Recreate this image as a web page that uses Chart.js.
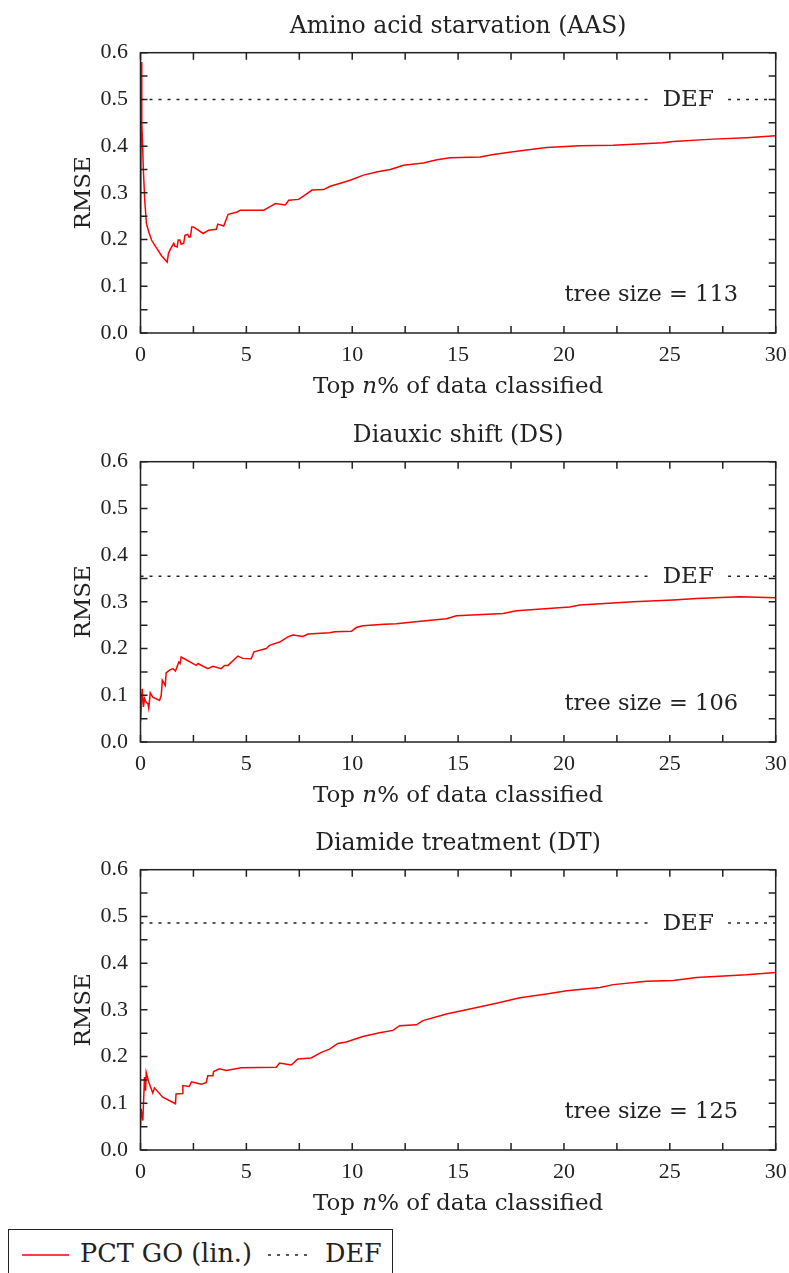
<!DOCTYPE html>
<html>
<head>
<meta charset="utf-8">
<script src="https://cdn.jsdelivr.net/npm/chart.js@4/dist/chart.umd.min.js"></script>
<style>
  body { margin: 0; background: #fff; }
  .wrap { position: relative; width: 789px; height: 1273px; overflow: hidden; }
  .wrap canvas { position: absolute; left: 0; }
  #legend {
    position: absolute; left: 8px; top: 1229px; width: 385px; height: 60px;
    border: 1.5px solid #222; box-sizing: border-box;
    font-family: "DejaVu Serif", serif; font-size: 25.5px; color: #222;
  }
  #legend svg { position: absolute; top: 0; left: 0; }
  #legend span { position: absolute; top: 8px; white-space: nowrap; }
</style>
</head>
<body>
<div class="wrap">
  <canvas id="c1" width="789" height="408" style="top:0px"></canvas>
  <canvas id="c2" width="789" height="408" style="top:409px"></canvas>
  <canvas id="c3" width="789" height="408" style="top:817px"></canvas>
  <div id="legend">
    <svg width="385" height="60">
      <line x1="13" y1="25" x2="60" y2="25" stroke="#ff0000" stroke-width="1.5"/>
      <line x1="259" y1="25" x2="299" y2="25" stroke="#222" stroke-width="1.5" stroke-dasharray="3 6"/>
    </svg>
    <span style="left:71px">PCT GO (lin.)</span>
    <span style="left:316px">DEF</span>
  </div>
</div>
<script>
(function() {
  'use strict';

  // chart titles, DEF baselines and tree sizes
  const titles = ["Amino acid starvation (AAS)", "Diauxic shift (DS)", "Diamide treatment (DT)"];
  const defValues = [0.5, 0.355, 0.486];
  const treeSizes = [113, 106, 125];

  // PCT GO (lin.) curves, [top n%, RMSE]
  const pctAAS = [
    [0,0.07],[0.03,0.58],[0.06,0.45],[0.1,0.40],[0.13,0.355],[0.2,0.284],[0.28,0.234],[0.4,0.215],
    [0.52,0.199],[0.73,0.184],[1.0,0.165],[1.26,0.152],[1.32,0.17],[1.42,0.18],[1.57,0.192],[1.62,0.186],
    [1.73,0.184],[1.78,0.199],[1.86,0.199],[1.92,0.19],[2.04,0.192],[2.1,0.209],[2.23,0.211],[2.3,0.205],
    [2.36,0.206],[2.42,0.227],[2.5,0.227],[2.96,0.213],[3.22,0.22],[3.58,0.222],[3.65,0.233],[3.93,0.229],
    [4.14,0.254],[4.56,0.259],[4.72,0.263],[5.82,0.263],[6.1,0.27],[6.37,0.277],[6.84,0.274],[7.0,0.284],
    [7.47,0.286],[7.8,0.296],[8.1,0.306],[8.65,0.307],[8.96,0.314],[9.4,0.32],[9.9,0.327],[10.53,0.338],
    [11.2,0.345],[11.8,0.35],[12.42,0.359],[13.36,0.364],[14.0,0.371],[14.62,0.375],[16.04,0.377],
    [16.67,0.382],[17.77,0.389],[19.18,0.397],[20.75,0.401],[22.33,0.402],[24.68,0.407],[25.16,0.41],
    [27.04,0.415],[28.62,0.418],[30,0.422]
  ];
  const pctDS = [
    [0,0.043],[0.08,0.114],[0.14,0.075],[0.19,0.093],[0.27,0.085],[0.35,0.082],[0.39,0.072],[0.46,0.105],
    [0.58,0.096],[0.9,0.089],[0.98,0.1],[1.03,0.132],[1.17,0.121],[1.21,0.148],[1.37,0.154],[1.53,0.157],
    [1.65,0.152],[1.81,0.171],[1.87,0.168],[1.92,0.182],[2.63,0.164],[2.71,0.168],[3.18,0.157],[3.42,0.162],
    [3.81,0.157],[3.97,0.164],[4.13,0.164],[4.6,0.184],[4.83,0.179],[5.23,0.178],[5.36,0.193],[5.94,0.2],
    [6.1,0.207],[6.57,0.214],[6.96,0.225],[7.2,0.229],[7.67,0.226],[7.91,0.231],[8.93,0.234],[9.17,0.236],
    [9.96,0.237],[10.19,0.245],[10.5,0.249],[11.5,0.252],[12.08,0.253],[12.87,0.257],[14.45,0.264],
    [14.92,0.27],[17.13,0.275],[17.76,0.281],[20.27,0.289],[20.75,0.293],[23.27,0.3],[25.16,0.304],
    [26.26,0.307],[28.3,0.311],[30,0.309]
  ];
  const pctDT = [
    [0,0.048],[0.03,0.088],[0.11,0.063],[0.19,0.156],[0.24,0.127],[0.27,0.166],[0.39,0.145],[0.58,0.122],
    [0.66,0.133],[1.05,0.113],[1.65,0.099],[1.68,0.12],[1.97,0.121],[2.0,0.138],[2.3,0.136],[2.41,0.146],
    [2.87,0.141],[3.1,0.144],[3.18,0.159],[3.42,0.159],[3.45,0.168],[3.73,0.174],[4.05,0.17],[4.76,0.176],
    [6.41,0.177],[6.57,0.186],[7.12,0.182],[7.43,0.195],[8.06,0.197],[8.54,0.209],[8.93,0.216],[9.32,0.228],
    [9.72,0.231],[10.5,0.243],[11.29,0.251],[11.92,0.256],[12.24,0.266],[13.03,0.268],[13.34,0.277],
    [14.45,0.291],[15.39,0.3],[16.81,0.314],[17.92,0.326],[19.18,0.334],[20.13,0.341],[21.7,0.348],
    [22.33,0.354],[23.9,0.361],[25.16,0.363],[26.26,0.369],[28.62,0.375],[30,0.38]
  ];
  const curves = [pctAAS, pctDS, pctDT];

  // the DEF line breaks around its inline label
  const defGap = [24.2, 27.75];
  const defLabelX = 25.87;
  const treeLabelPos = [28.22, 0.08];

  const INK = '#222';
  const CM = '"DejaVu Serif", serif';
  const TIMES = '"Liberation Serif", "Times New Roman", serif';

  // frame, inward ticks and the in-plot labels
  const framePlugin = {
    id: 'frame',
    afterDatasetsDraw(chart, args, opts) {
      const ctx = chart.ctx;
      const a = chart.chartArea;
      const x = chart.scales.x;
      const y = chart.scales.y;
      ctx.save();
      ctx.strokeStyle = INK;
      ctx.lineWidth = 1.5;
      ctx.beginPath();
      x.ticks.forEach(function (t) {
        const px = x.getPixelForValue(t.value);
        ctx.moveTo(px, a.bottom); ctx.lineTo(px, a.bottom - 7);
        ctx.moveTo(px, a.top); ctx.lineTo(px, a.top + 7);
      });
      y.ticks.forEach(function (t) {
        const py = y.getPixelForValue(t.value);
        ctx.moveTo(a.left, py); ctx.lineTo(a.left + 7, py);
        ctx.moveTo(a.right, py); ctx.lineTo(a.right - 7, py);
      });
      ctx.stroke();
      ctx.strokeRect(a.left, a.top, a.right - a.left, a.bottom - a.top);

      ctx.fillStyle = INK;
      ctx.font = '23px ' + CM;
      ctx.textBaseline = 'middle';
      ctx.textAlign = 'center';
      ctx.fillText('DEF', x.getPixelForValue(defLabelX), y.getPixelForValue(opts.def) + 1);
      ctx.font = '22.5px ' + CM;
      ctx.textAlign = 'right';
      ctx.fillText('tree size = ' + opts.tree, x.getPixelForValue(treeLabelPos[0]), y.getPixelForValue(treeLabelPos[1]));

      // x axis title with an italic n
      const parts = [['Top ', '23px ' + CM], ['n', 'italic 23px ' + CM], ['% of data classified', '23px ' + CM]];
      let total = 0;
      parts.forEach(function (p) { ctx.font = p[1]; total += ctx.measureText(p[0]).width; });
      let cx = (a.left + a.right) / 2 - total / 2;
      ctx.textAlign = 'left';
      parts.forEach(function (p) {
        ctx.font = p[1];
        ctx.fillText(p[0], cx, a.bottom + 54);
        cx += ctx.measureText(p[0]).width;
      });
      ctx.restore();
    }
  };

  function makeChart(id, i) {
    const def = defValues[i];
    const defLine = [[0, def], [defGap[0], def], [defGap[0] + 0.1, null], [defGap[1], def], [30, def]];
    new Chart(document.getElementById(id), {
      type: 'line',
      data: {
        datasets: [
          {
            label: 'PCT GO (lin.)',
            data: curves[i],
            borderColor: '#ff0000',
            borderWidth: 1.5,
            pointRadius: 0,
            tension: 0
          },
          {
            label: 'DEF',
            data: defLine,
            borderColor: INK,
            borderWidth: 1.5,
            borderDash: [3, 6],
            pointRadius: 0,
            spanGaps: false
          }
        ]
      },
      options: {
        responsive: false,
        animation: false,
        layout: { padding: { left: 0, right: 13.3, top: 0, bottom: 0 } },
        plugins: {
          legend: { display: false },
          tooltip: { enabled: false },
          title: {
            display: true,
            text: titles[i],
            fullSize: false,
            color: INK,
            font: { family: CM, size: 23.5, weight: 'normal', lineHeight: 1.2 },
            padding: { top: 12.5, bottom: 12 }
          },
          frame: { def: def, tree: treeSizes[i] }
        },
        scales: {
          x: {
            type: 'linear',
            min: 0,
            max: 30,
            grid: { display: false, drawTicks: false },
            border: { display: false },
            ticks: {
              stepSize: 2.5,
              autoSkip: false,
              maxRotation: 0,
              padding: 9,
              color: INK,
              font: { family: TIMES, size: 22 },
              callback: function (v) { return v % 5 === 0 ? String(v) : ''; }
            },
            afterFit: function (s) { s.height = 75; s.paddingLeft = 0; s.paddingRight = 0; }
          },
          y: {
            min: 0,
            max: 0.6,
            grid: { display: false, drawTicks: false },
            border: { display: false },
            title: {
              display: true,
              text: 'RMSE',
              color: INK,
              font: { family: CM, size: 23, lineHeight: 1.2 },
              padding: { top: 70, bottom: 0 }
            },
            ticks: {
              stepSize: 0.05,
              autoSkip: false,
              padding: 12.5,
              color: INK,
              font: { family: TIMES, size: 22 },
              callback: function (v) { return Math.round(v * 100) % 10 === 0 ? v.toFixed(1) : ''; }
            },
            afterFit: function (s) { s.width = 140.5; s.paddingTop = 0; s.paddingBottom = 0; }
          }
        }
      },
      plugins: [framePlugin]
    });
  }

  makeChart('c1', 0);
  makeChart('c2', 1);
  makeChart('c3', 2);
})();
</script>
</body>
</html>
